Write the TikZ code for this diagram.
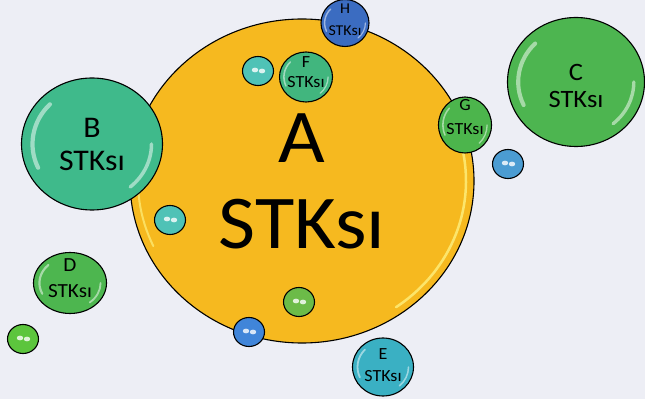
\documentclass[tikz,border=0pt]{standalone}
\usepackage{fontspec}
\setmainfont{Carlito}
\usetikzlibrary{shapes.geometric}
\definecolor{paper}{HTML}{EDEEF5}
\definecolor{sunA}{HTML}{F6B91F}
\definecolor{tealB}{HTML}{3FBA8B}
\definecolor{greenC}{HTML}{4DB550}
\definecolor{greenD}{HTML}{4DB64F}
\definecolor{tealE}{HTML}{3AB0C3}
\definecolor{tealF}{HTML}{41B67E}
\definecolor{greenG}{HTML}{4CB54C}
\definecolor{blueH}{HTML}{3B6CC1}
\definecolor{aqua}{HTML}{4FC2B6}
\definecolor{skyb}{HTML}{4B9CD2}
\definecolor{lime}{HTML}{6CBB48}

% glare on a labelled ball: name, x radius, y radius
\newcommand{\shine}[3]{%
  \draw[white, opacity=.5, line width=0.06*#2, line cap=round]
    ([shift={(135:0.85*#2 and 0.85*#3)}]#1.center)
    arc[start angle=135, end angle=205, x radius=0.85*#2, y radius=0.85*#3];
  \draw[white, opacity=.5, line width=0.05*#2, line cap=round]
    ([shift={(-50:0.85*#2 and 0.85*#3)}]#1.center)
    arc[start angle=-50, end angle=0, x radius=0.85*#2, y radius=0.85*#3];
}

\begin{document}
\begin{tikzpicture}[
        x = 1pt, y = 1pt,
  ball/.style = {ellipse, draw=black, line width=1.1pt, inner sep=0pt},
  bead/.style = {ball, minimum width=31, minimum height=29},
  balltext/.style = {align=center, text=black, xscale=1.06}
                   ]
% page
    \fill[paper] (0,0) rectangle (645,399);
    \useasboundingbox (0,0) rectangle (645,399);
% the big one
    \node[ball, fill=sunA, minimum width=344, minimum height=324] (A) at (302,218) {};
    \draw[yellow!45!white, line width=2.5pt, line cap=round, opacity=.7]
        ([shift={(-55:164 and 154)}]A.center) arc[start angle=-55, end angle=15, x radius=164, y radius=154];
    \draw[yellow!45!white, line width=2pt, line cap=round, opacity=.6]
        ([shift={(170:164 and 154)}]A.center) arc[start angle=170, end angle=205, x radius=164, y radius=154];
    \node[balltext, font=\fontsize{76}{86}\selectfont] (At) at (A) {A\\STKsı};
% labelled balls
    \node[ball, fill=tealB,  minimum width=141, minimum height=132] (B) at (92,255) {};
    \node[ball, fill=greenC, minimum width=137, minimum height=129] (C) at (576,317) {};
    \node[ball, fill=greenD, minimum width=73,  minimum height=61]  (D) at (70,116) {};
    \node[ball, fill=tealE,  minimum width=61,  minimum height=58]  (E) at (383,32) {};
    \node[ball, fill=tealF,  minimum width=53,  minimum height=50]  (F) at (306,322) {};
    \node[ball, fill=greenG, minimum width=53,  minimum height=56]  (G) at (465,274) {};
    \node[ball, fill=blueH,  minimum width=48,  minimum height=47]  (H) at (345,376) {};
    \foreach \b/\rx/\ry in {B/70/66, C/68/64, D/36/30, E/30/29, F/26/25, G/26/28, H/24/23}
        {\shine{\b}{\rx}{\ry}}
    \node[balltext, font=\fontsize{30}{33}\selectfont] (Bt) at (B) {B\\STKsı};
    \node[balltext, font=\fontsize{25}{27}\selectfont] (Ct) at ([yshift=-4]C) {C\\STKsı};
    \node[balltext, font=\fontsize{20}{26}\selectfont] (Dt) at ([yshift=5]D) {D\\STKsı};
    \node[balltext, font=\fontsize{17}{22}\selectfont] (Et) at ([yshift=2]E) {E\\STKsı};
    \node[balltext, font=\fontsize{17}{20}\selectfont] (Ft) at ([yshift=5]F) {F\\STKsı};
    \node[balltext, font=\fontsize{17}{24}\selectfont] (Gt) at ([yshift=8]G) {G\\STKsı};
    \node[balltext, font=\fontsize{15}{22}\selectfont] (Ht) at ([yshift=3]H) {H\\STKsı};
% small beads
    \foreach \b/\px/\py/\col in {b1/258/328/aqua, b2/508/235/skyb, b3/170/179/aqua,
                                 b4/299/97/lime, b5/249/67/skyb!85!blue, b6/23/60/lime!85!green}
    {
        \node[bead, fill=\col] (\b) at (\px,\py) {};
        \fill[white, opacity=.8] ([shift={(-3,1)}]\b.center) ellipse[x radius=3.2, y radius=2.4];
        \fill[white, opacity=.8] ([shift={(4,0)}]\b.center) ellipse[x radius=3.2, y radius=2.4];
    }
\end{tikzpicture}
\end{document}
